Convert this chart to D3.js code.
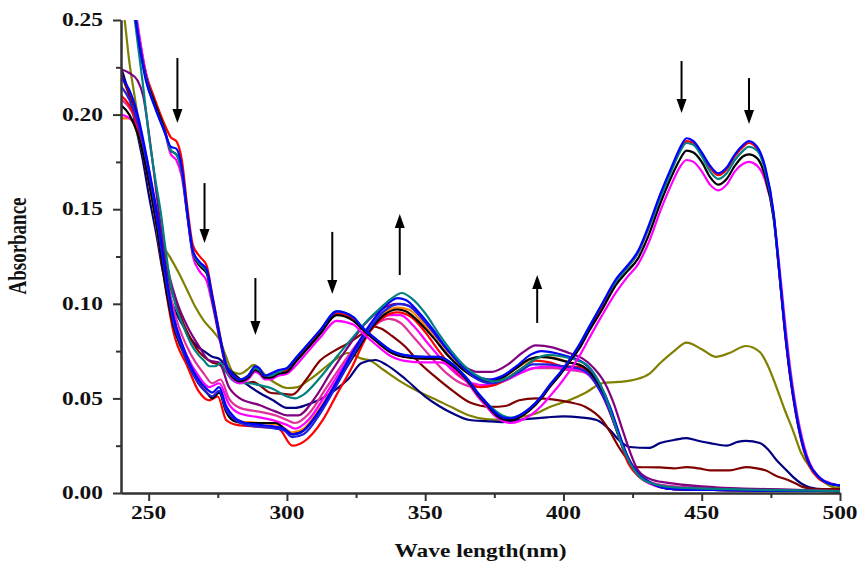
<!DOCTYPE html>
<html>
<head>
<meta charset="utf-8">
<script src="https://cdn.jsdelivr.net/npm/d3@7"></script>
<style>
  body { margin: 0; background: #ffffff; }
  svg text { font-family: "Liberation Serif", "Times New Roman", serif; font-weight: bold; fill: #111; }
</style>
</head>
<body>
<svg id="chart" width="860" height="567"></svg>
<script>
// Axis ticks
const xTicks = [250, 300, 350, 400, 450, 500];
const xMinorTicks = [275, 325, 375, 425, 475];
const yTicks = [0.00, 0.05, 0.10, 0.15, 0.20, 0.25];
const yMinorTicks = [0.025, 0.075, 0.125, 0.175, 0.225];

// Spectra: [wavelength (nm), absorbance]
const oliveSpec = [[240,0.265],[241.4,0.249],[243,0.228],[245,0.209],[247,0.19],[250,0.165],[252.5,0.146],[255,0.132],[258,0.124],[261,0.116],[264,0.107],[267,0.098],[270,0.091],[273,0.086],[276,0.08],[278,0.072],[280.5,0.064],[283,0.063],[285.5,0.065],[288,0.0677],[290.5,0.065],[293,0.061],[296,0.058],[300,0.0555],[304,0.056],[307,0.0587],[311,0.063],[314,0.0666],[319,0.072],[322,0.074],[327,0.071],[330,0.07],[335,0.065],[341,0.059],[347,0.054],[353,0.05],[360,0.045],[366,0.041],[372,0.039],[377,0.0386],[384,0.04],[390,0.042],[395,0.0455],[402,0.049],[408,0.053],[414,0.058],[420,0.0587],[426,0.06],[431,0.063],[435,0.0687],[440,0.075],[444.5,0.0795],[450,0.076],[455,0.072],[460,0.074],[466,0.0777],[471,0.0745],[474,0.067],[477,0.056],[480,0.044],[483,0.033],[486,0.021],[490,0.012],[494,0.006],[498,0.003],[500,0.003]];

const navySpec = [[240,0.225],[243,0.21],[245,0.196],[248,0.175],[250,0.158],[253,0.135],[255,0.118],[258,0.102],[260,0.095],[263,0.087],[265,0.082],[268,0.077],[270,0.075],[273,0.072],[275.5,0.071],[278,0.067],[280,0.064],[285,0.058],[290,0.053],[295,0.049],[300,0.045],[303,0.045],[307,0.0465],[314,0.051],[318,0.055],[322,0.06],[327,0.0687],[332,0.0703],[336,0.0677],[343,0.06],[350,0.051],[355,0.046],[360,0.042],[366,0.0386],[372,0.038],[378,0.0375],[386,0.039],[394,0.04],[400,0.0405],[406,0.04],[412,0.0386],[417,0.033],[420,0.028],[424,0.0243],[431,0.0238],[435,0.0264],[440,0.028],[444.5,0.029],[449,0.0275],[453,0.0264],[459,0.025],[463,0.027],[466,0.0275],[471,0.0264],[474,0.023],[477,0.0174],[480,0.013],[483,0.0085],[486,0.005],[489,0.003],[494,0.002],[500,0.002]];

const wineSpec = [[240,0.222],[242.5,0.212],[245,0.203],[248,0.185],[250,0.17],[253,0.148],[255,0.13],[258,0.108],[260,0.1],[263,0.088],[265,0.082],[268,0.075],[270,0.072],[273,0.069],[275.5,0.068],[278,0.064],[280,0.062],[283,0.06],[285,0.058],[287.7,0.0587],[290,0.057],[294,0.053],[298,0.0525],[302,0.052],[307,0.06],[312,0.07],[317,0.075],[322,0.079],[327,0.084],[331,0.088],[334,0.087],[338,0.083],[343,0.077],[348,0.0687],[354,0.061],[360,0.054],[366,0.048],[374,0.0455],[379,0.046],[384,0.049],[390,0.05],[396,0.0495],[402,0.048],[408,0.0455],[414,0.0386],[417,0.032],[420,0.0243],[423,0.018],[426,0.0137],[435,0.0135],[440,0.013],[444.5,0.0137],[449,0.013],[453,0.012],[460,0.012],[466,0.0137],[470,0.013],[473,0.012],[477,0.009],[481,0.007],[484,0.005],[487,0.003],[493,0.002],[500,0.002]];

const orangeSpec = [[240,0.198],[243,0.198],[246,0.19],[250,0.165],[254,0.13],[258,0.095],[262,0.077],[266,0.064],[270,0.055],[273,0.051],[275.5,0.054],[278,0.044],[282,0.038],[290,0.037],[297,0.036],[302,0.032],[306,0.034],[312,0.045],[318,0.059],[324,0.073],[330,0.087],[335,0.095],[340,0.098],[344,0.097],[349,0.09],[354,0.081],[359,0.072],[364,0.065],[369,0.061],[374,0.06],[379,0.062],[384,0.067],[389,0.071],[394,0.072],[400,0.07],[405,0.068],[409,0.065],[412,0.059],[416,0.047],[419,0.035],[422,0.022],[426,0.012],[431,0.006],[440,0.002],[500,0.001]];

const pinkSpec = [[240,0.208],[245,0.198],[250,0.17],[255,0.125],[260,0.092],[265,0.074],[270,0.063],[273,0.058],[276,0.06],[279,0.05],[283,0.045],[290,0.043],[296,0.041],[300,0.0386],[303,0.037],[308,0.042],[314,0.055],[320,0.068],[326,0.08],[332,0.089],[337,0.092],[341,0.09],[346,0.082],[352,0.072],[358,0.063],[363,0.058],[368,0.056],[374,0.057],[380,0.06],[385,0.064],[390,0.066],[396,0.066],[402,0.065],[407,0.064],[411,0.06],[415,0.05],[419,0.035],[423,0.02],[428,0.009],[433,0.005],[445,0.003],[470,0.002],[500,0.001]];

const magentaSpec = [[240,0.2],[244,0.197],[248,0.185],[252,0.155],[256,0.115],[260,0.088],[264,0.072],[268,0.062],[272,0.056],[275.5,0.058],[279,0.047],[283,0.042],[290,0.04],[296,0.038],[300,0.036],[303,0.034],[308,0.039],[314,0.052],[320,0.066],[326,0.079],[332,0.089],[337,0.094],[341,0.094],[346,0.088],[351,0.079],[357,0.069],[362,0.062],[367,0.058],[372,0.057],[378,0.059],[384,0.063],[389,0.066],[395,0.067],[401,0.066],[406,0.065],[410,0.061],[414,0.052],[418,0.038],[422,0.022],[426,0.011],[431,0.005],[440,0.002],[500,0.001]];

const purpleSpec = [[240,0.224],[243,0.222],[246,0.218],[248,0.21],[251,0.18],[254,0.145],[257,0.118],[260,0.102],[264,0.088],[268,0.078],[272,0.07],[275.5,0.069],[279,0.056],[283,0.05],[290,0.0465],[296,0.043],[300,0.041],[304,0.041],[310,0.05],[316,0.064],[322,0.077],[328,0.089],[334,0.097],[340,0.1],[344,0.099],[349,0.092],[354,0.083],[359,0.074],[364,0.067],[369,0.064],[374,0.064],[380,0.068],[385,0.074],[390,0.078],[396,0.077],[402,0.074],[407,0.071],[411,0.066],[415,0.058],[418,0.048],[421,0.035],[424,0.022],[427,0.012],[432,0.007],[440,0.005],[455,0.003],[475,0.002],[500,0.001]];

const redSpec = [[240,0.21],[243,0.205],[246,0.194],[250,0.165],[252,0.152],[255,0.119],[259,0.085],[264,0.067],[268,0.054],[272,0.049],[275,0.051],[278,0.0386],[282,0.036],[290,0.035],[297,0.034],[302,0.025],[306,0.027],[313,0.0386],[318,0.052],[323,0.065],[329,0.083],[335,0.093],[340,0.0955],[345,0.093],[350,0.085],[355,0.075],[360,0.066],[365,0.059],[370,0.056],[375,0.057],[380,0.061],[385,0.066],[390,0.07],[395,0.069],[400,0.067],[406,0.0666],[410,0.062],[413,0.055],[417,0.042],[420,0.03],[423,0.017],[427,0.009],[432,0.005],[440,0.002],[500,0.001]];

const blackSpec = [[240,0.205],[243,0.2],[246,0.19],[250,0.165],[253,0.14],[256,0.11],[259,0.088],[262,0.076],[265,0.066],[268,0.058],[271,0.053],[273,0.05],[275.5,0.053],[278,0.043],[281,0.038],[285,0.037],[290,0.037],[296,0.037],[299,0.034],[302,0.031],[306,0.033],[312,0.044],[318,0.058],[324,0.072],[330,0.086],[335,0.094],[340,0.097],[343,0.096],[348,0.09],[353,0.082],[358,0.073],[363,0.066],[368,0.061],[373,0.059],[378,0.061],[383,0.066],[388,0.071],[392,0.072],[397,0.071],[402,0.069],[407,0.067],[410,0.063],[413,0.056],[417,0.044],[420,0.031],[423,0.019],[427,0.01],[432,0.005],[440,0.002],[500,0.001]];

const royalSpec = [[240,0.215],[243,0.208],[246,0.196],[250,0.17],[253,0.145],[256,0.115],[259,0.09],[262,0.077],[265,0.066],[268,0.058],[271,0.053],[273,0.051],[275.5,0.054],[278,0.044],[281,0.039],[285,0.036],[290,0.035],[296,0.034],[299,0.033],[302,0.0295],[306,0.031],[312,0.042],[318,0.057],[324,0.073],[330,0.087],[335,0.096],[341,0.1],[344,0.099],[349,0.092],[354,0.083],[359,0.074],[364,0.066],[369,0.06],[374,0.058],[379,0.06],[384,0.064],[389,0.068],[394,0.068],[400,0.067],[405,0.066],[409,0.063],[412,0.057],[416,0.046],[419,0.034],[422,0.022],[426,0.012],[431,0.006],[440,0.002],[500,0.001]];

const blueSpec = [[240,0.22],[243,0.213],[246,0.2],[250,0.172],[253,0.148],[256,0.118],[259,0.093],[262,0.079],[265,0.068],[268,0.06],[271,0.055],[273,0.053],[275.5,0.056],[278,0.046],[281,0.04],[285,0.037],[290,0.036],[296,0.035],[299,0.034],[302,0.031],[305,0.032],[312,0.044],[318,0.059],[324,0.075],[330,0.089],[335,0.098],[340,0.103],[343,0.102],[348,0.095],[353,0.086],[358,0.076],[363,0.068],[368,0.062],[373,0.06],[378,0.062],[383,0.067],[388,0.073],[392,0.075],[397,0.074],[402,0.072],[407,0.069],[410,0.065],[413,0.058],[417,0.045],[420,0.032],[423,0.02],[427,0.01],[432,0.005],[440,0.002],[500,0.001]];

const tealSpec = [[240,0.3],[243,0.275],[245,0.25],[248,0.215],[250,0.19],[252.5,0.165],[254.5,0.147],[256,0.13],[258,0.11],[260,0.098],[262,0.09],[264,0.083],[266,0.077],[268,0.073],[270,0.07],[272,0.067],[274,0.067],[276,0.0687],[278,0.064],[280,0.06],[283,0.058],[286,0.058],[290,0.057],[295,0.055],[300,0.051],[303,0.05],[306,0.052],[312,0.061],[318,0.072],[324,0.0825],[329,0.091],[334,0.098],[338,0.103],[341.5,0.1057],[345,0.103],[350,0.095],[355,0.084],[360,0.074],[365,0.066],[370,0.061],[375,0.059],[380,0.061],[385,0.066],[390,0.071],[395,0.073],[400,0.072],[405,0.07],[409,0.067],[412,0.061],[415,0.052],[418,0.039],[421,0.026],[424,0.016],[428,0.008],[432,0.005],[440,0.003],[460,0.002],[500,0.001]];

const dyeRedSpec = [[240,0.33],[243,0.28],[245.4,0.252],[249,0.222],[252,0.209],[256,0.194],[258,0.188],[260,0.186],[262,0.176],[264,0.151],[266,0.131],[268.5,0.125],[271,0.12],[273,0.105],[276,0.082],[278,0.068],[280.5,0.062],[283,0.06],[286,0.062],[288.5,0.066],[290,0.065],[292,0.062],[294,0.062],[297,0.064],[300,0.065],[303,0.07],[306,0.075],[312,0.085],[318,0.095],[324,0.092],[327,0.087],[332.5,0.08],[338,0.074],[342,0.072],[350,0.071],[355,0.071],[360,0.067],[363,0.063],[366,0.058],[369,0.052],[372,0.047],[375,0.042],[378,0.039],[381,0.039],[384,0.04],[388,0.044],[392,0.05],[395,0.056],[399,0.063],[402,0.069],[406,0.078],[409,0.086],[414,0.099],[419,0.112],[423,0.119],[427,0.127],[431,0.141],[435,0.157],[439,0.171],[442,0.181],[444.5,0.186],[447,0.185],[450,0.179],[453,0.172],[456,0.168],[459,0.171],[462,0.178],[465,0.183],[467,0.185],[470,0.182],[473,0.171],[476,0.147],[478,0.117],[480,0.086],[482,0.061],[484,0.042],[487,0.022],[489,0.014],[492,0.008],[496,0.005],[500,0.004]];

const dyeMagentaSpec = [[240,0.33],[243,0.28],[245.8,0.25],[249,0.222],[252,0.206],[256,0.19],[258,0.179],[260,0.176],[262,0.167],[264,0.146],[266,0.125],[268.5,0.117],[271,0.112],[273,0.1],[276,0.079],[278,0.066],[280.5,0.06],[283,0.058],[286,0.06],[288.5,0.064],[290,0.063],[292,0.06],[294,0.06],[297,0.062],[300,0.063],[303,0.067],[306,0.072],[312,0.082],[318,0.091],[324,0.089],[327,0.085],[332.5,0.078],[338,0.072],[342,0.07],[350,0.069],[355,0.069],[360,0.066],[363,0.062],[366,0.057],[369,0.051],[372,0.046],[375,0.041],[378,0.038],[381,0.037],[384,0.038],[388,0.041],[392,0.046],[395,0.051],[399,0.058],[402,0.064],[406,0.073],[409,0.081],[414,0.094],[419,0.106],[423,0.114],[427,0.121],[431,0.133],[435,0.149],[439,0.163],[442,0.172],[444.5,0.176],[447,0.175],[450,0.17],[453,0.163],[456,0.16],[459,0.163],[462,0.17],[465,0.174],[467,0.175],[470,0.173],[473,0.165],[476,0.146],[478,0.121],[480,0.092],[482,0.066],[484,0.046],[487,0.025],[489,0.016],[492,0.009],[497,0.005],[500,0.004]];

const dyeBlackSpec = [[240,0.33],[243,0.28],[245.4,0.25],[249,0.22],[252,0.207],[256,0.191],[258,0.181],[260,0.179],[262,0.17],[264,0.147],[266,0.127],[268.5,0.12],[271,0.116],[273,0.102],[276,0.08],[278,0.067],[280.5,0.061],[283,0.059],[286,0.061],[288.5,0.065],[290,0.064],[292,0.061],[294,0.061],[297,0.063],[300,0.064],[303,0.069],[306,0.074],[312,0.084],[318,0.094],[324,0.091],[327,0.087],[332.5,0.08],[338,0.074],[342,0.072],[350,0.071],[355,0.071],[360,0.067],[363,0.063],[366,0.058],[369,0.052],[372,0.047],[375,0.042],[378,0.039],[381,0.0385],[384,0.04],[388,0.044],[392,0.05],[395,0.056],[399,0.063],[402,0.069],[406,0.077],[409,0.085],[414,0.097],[419,0.11],[423,0.117],[427,0.124],[431,0.137],[435,0.153],[439,0.167],[442,0.176],[444.5,0.181],[447,0.18],[450,0.175],[453,0.167],[456,0.163],[459,0.166],[462,0.173],[465,0.178],[467,0.179],[470,0.177],[473,0.167],[476,0.145],[478,0.117],[480,0.087],[482,0.062],[484,0.043],[487,0.023],[489,0.015],[492,0.009],[496,0.005],[500,0.004]];

const dyeTealSpec = [[240,0.33],[243,0.28],[245.4,0.25],[249,0.219],[252,0.205],[256,0.19],[258,0.181],[260,0.179],[262,0.17],[264,0.147],[266,0.127],[268.5,0.121],[271,0.117],[273,0.103],[276,0.081],[278,0.068],[280.5,0.062],[283,0.06],[286,0.062],[288.5,0.066],[290,0.065],[292,0.062],[294,0.062],[297,0.064],[300,0.066],[303,0.071],[306,0.076],[312,0.086],[318,0.096],[324,0.093],[327,0.088],[332.5,0.081],[338,0.075],[342,0.073],[350,0.072],[355,0.072],[360,0.068],[363,0.064],[366,0.059],[369,0.053],[372,0.048],[375,0.044],[378,0.041],[381,0.0398],[384,0.041],[388,0.045],[392,0.051],[395,0.057],[399,0.064],[402,0.07],[406,0.079],[409,0.087],[414,0.1],[419,0.112],[423,0.119],[427,0.127],[431,0.141],[435,0.156],[439,0.17],[442,0.18],[444.5,0.185],[447,0.184],[450,0.178],[453,0.17],[456,0.166],[459,0.169],[462,0.176],[465,0.181],[467,0.183],[470,0.181],[473,0.17],[476,0.147],[478,0.118],[480,0.088],[482,0.063],[484,0.044],[487,0.023],[489,0.015],[492,0.009],[496,0.005],[500,0.004]];

const dyeBlueSpec = [[240,0.32],[243,0.275],[245.4,0.249],[249,0.218],[252,0.205],[256,0.19],[258,0.183],[260,0.182],[262,0.172],[264,0.148],[266,0.128],[268.5,0.122],[271,0.118],[273,0.104],[276,0.081],[278,0.068],[280.5,0.062],[283,0.06],[286,0.062],[288.5,0.067],[290,0.066],[292,0.062],[294,0.063],[297,0.065],[300,0.066],[303,0.071],[306,0.076],[312,0.086],[318,0.096],[324,0.093],[327,0.088],[332.5,0.081],[338,0.075],[342,0.073],[350,0.072],[355,0.072],[360,0.068],[363,0.064],[366,0.059],[369,0.053],[372,0.048],[375,0.043],[378,0.04],[381,0.0395],[384,0.041],[388,0.045],[392,0.051],[395,0.057],[399,0.064],[402,0.07],[406,0.079],[409,0.087],[414,0.1],[419,0.113],[423,0.12],[427,0.128],[431,0.142],[435,0.158],[439,0.172],[442,0.182],[444.5,0.1875],[447,0.186],[450,0.18],[453,0.173],[456,0.169],[459,0.172],[462,0.179],[465,0.184],[467,0.186],[470,0.183],[473,0.172],[476,0.148],[478,0.118],[480,0.087],[482,0.062],[484,0.043],[487,0.023],[489,0.015],[492,0.009],[496,0.005],[500,0.004]];

// Drawing order, bottom to top
const spectra = [
  { values: oliveSpec,      color: "#808000" },
  { values: navySpec,       color: "#000080" },
  { values: wineSpec,       color: "#800000" },
  { values: orangeSpec,     color: "#ff8000" },
  { values: pinkSpec,       color: "#e0309a" },
  { values: magentaSpec,    color: "#ff00ff" },
  { values: purpleSpec,     color: "#800080" },
  { values: redSpec,        color: "#ff0000" },
  { values: blackSpec,      color: "#000000" },
  { values: royalSpec,      color: "#2020dd" },
  { values: blueSpec,       color: "#0000ff" },
  { values: tealSpec,       color: "#008080" },
  { values: dyeRedSpec,     color: "#ff0000" },
  { values: dyeMagentaSpec, color: "#ff00ff" },
  { values: dyeBlackSpec,   color: "#000000" },
  { values: dyeTealSpec,    color: "#008080" },
  { values: dyeBlueSpec,    color: "#0000ff" }
];

// Trend arrows: [wavelength, tail absorbance, head absorbance]
const trendArrows = [
  [260.4, 0.2299, 0.1956],
  [270.2, 0.1638, 0.1321],
  [288.6, 0.1136, 0.0835],
  [316.4, 0.1380, 0.1052],
  [340.8, 0.1152, 0.1475],
  [390.5, 0.0899, 0.1152],
  [442.7, 0.2283, 0.2008],
  [467.1, 0.2193, 0.1950]
];

const svg = d3.select("#chart");
const x = d3.scaleLinear().domain([240, 500]).range([121, 840]);
const y = d3.scaleLinear().domain([0, 0.25]).range([493, 20]);
const stretch = 1.3;

svg.append("defs").append("clipPath").attr("id", "plotClip")
  .append("rect")
  .attr("x", x(240)).attr("y", y(0.25))
  .attr("width", x(500) - x(240)).attr("height", y(0) - y(0.25));

// Spectra
const line = d3.line()
  .x(d => x(d[0]))
  .y(d => y(d[1]))
  .curve(d3.curveMonotoneX);

svg.append("g").attr("clip-path", "url(#plotClip)")
  .selectAll("path")
  .data(spectra)
  .join("path")
  .attr("d", d => line(d.values))
  .attr("fill", "none")
  .attr("stroke", d => d.color)
  .attr("stroke-width", 2.2)
  .attr("stroke-linejoin", "round");

// Axes
function styleAxis(g) {
  g.selectAll("path, line").attr("stroke", "#333").attr("stroke-width", 2);
  g.selectAll("text").remove();
}
svg.append("g").attr("transform", `translate(0,${y(0)})`)
  .call(d3.axisBottom(x).tickValues(xMinorTicks).tickSize(5).tickSizeOuter(0))
  .call(styleAxis);
svg.append("g").attr("transform", `translate(0,${y(0)})`)
  .call(d3.axisBottom(x).tickValues(xTicks).tickSize(8).tickSizeOuter(0))
  .call(styleAxis);
svg.append("g").attr("transform", `translate(${x(240)},0)`)
  .call(d3.axisLeft(y).tickValues(yMinorTicks).tickSize(5).tickSizeOuter(0))
  .call(styleAxis);
svg.append("g").attr("transform", `translate(${x(240)},0)`)
  .call(d3.axisLeft(y).tickValues(yTicks).tickSize(8).tickSizeOuter(0))
  .call(styleAxis);

// Tick labels
const fmtY = d3.format(".2f");
svg.append("g").selectAll("text")
  .data(yTicks).join("text")
  .attr("transform", d => `translate(${x(240) - 18},${y(d)}) scale(${stretch},1)`)
  .attr("text-anchor", "end")
  .attr("dy", "0.34em")
  .attr("font-size", 18)
  .text(d => fmtY(d));

svg.append("g").selectAll("text")
  .data(xTicks).join("text")
  .attr("transform", d => `translate(${x(d)},${y(0) + 26}) scale(${stretch},1)`)
  .attr("text-anchor", "middle")
  .attr("font-size", 18)
  .text(d => d);

// Axis titles
svg.append("text")
  .attr("transform", `translate(${(x(240) + x(500)) / 2},557) scale(${stretch},1)`)
  .attr("text-anchor", "middle")
  .attr("font-size", 18)
  .text("Wave length(nm)");

svg.append("text")
  .attr("transform", `translate(26,246) scale(${stretch},1) rotate(-90)`)
  .attr("text-anchor", "middle")
  .attr("font-size", 19)
  .text("Absorbance");

// Arrows
const headLen = 14, headHalf = 5;
const arrowG = svg.append("g");
trendArrows.forEach(([wl, from, to]) => {
  const px = x(wl), y0 = y(from), y1 = y(to);
  const dir = Math.sign(y1 - y0);
  arrowG.append("line")
    .attr("x1", px).attr("x2", px)
    .attr("y1", y0).attr("y2", y1 - dir * headLen)
    .attr("stroke", "#000").attr("stroke-width", 2);
  arrowG.append("path")
    .attr("d", `M${px},${y1} L${px - headHalf},${y1 - dir * headLen} L${px + headHalf},${y1 - dir * headLen} Z`)
    .attr("fill", "#000");
});
</script>
</body>
</html>
